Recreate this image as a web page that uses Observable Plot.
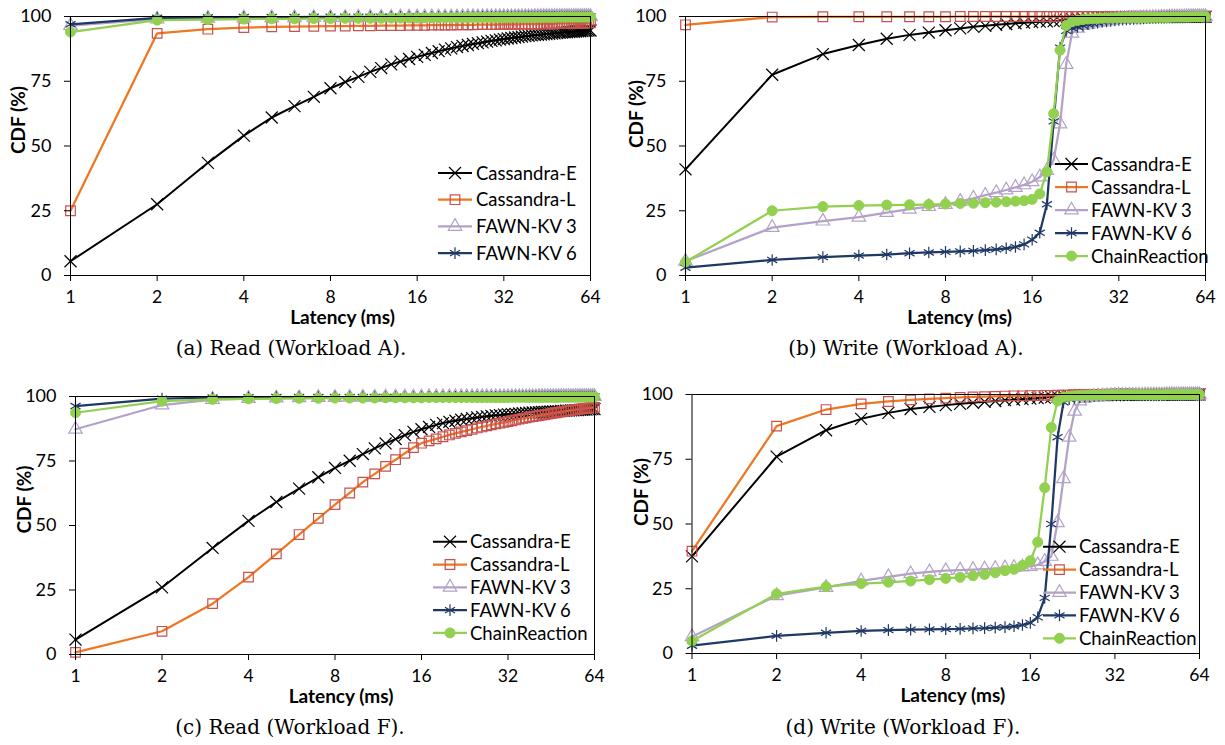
<!DOCTYPE html>
<html><head><meta charset="utf-8">
<script src="https://cdn.jsdelivr.net/npm/d3@7"></script>
<script src="https://cdn.jsdelivr.net/npm/@observablehq/plot@0.6"></script>
<style>
body{margin:0;background:#fff;}
#root{position:relative;width:1225px;height:745px;overflow:hidden;background:#fff;}
.panel{position:absolute;}
.cap{position:absolute;font-family:"DejaVu Serif",serif;font-size:20px;line-height:20px;white-space:nowrap;transform:translateX(-50%);color:#000;}
</style></head><body><div id="root"></div>
<script>
const latency = [1,2,3,4,5,6,7,8,9,10,11,12,13,14,15,16,17,18,19,20,21,22,23,24,25,26,27,28,29,30,31,32,33,34,35,36,37,38,39,40,41,42,43,44,45,46,47,48,49,50,51,52,53,54,55,56,57,58,59,60,61,62,63,64];
const xTicks = [1,2,4,8,16,32,64];
const yTicks = [0,25,50,75,100];
const seriesNames = ["Cassandra-E","Cassandra-L","FAWN-KV 3","FAWN-KV 6","ChainReaction"];

// (a) Read, Workload A
const CE_a = [5.5,27.5,43.5,54,61,65.4,69,72.3,74.7,76.7,78.6,80.1,81.5,82.6,83.6,84.4,
85.2,85.9,86.6,87.2,87.7,88.2,88.6,89,89.4,89.7,90,90.3,90.6,90.8,91.1,91.3,
91.5,91.7,91.9,92,92.2,92.4,92.5,92.7,92.8,92.9,93,93.1,93.2,93.3,93.4,93.5,
93.6,93.7,93.8,93.9,93.9,94,94.1,94.1,94.2,94.3,94.3,94.4,94.5,94.5,94.6,94.6];
const CL_a = [25,93.5,95.1,95.7,96,96.1,96.2,96.3,96.3,96.4,96.4,96.5,96.5,96.5,96.6,96.6,
96.6,96.7,96.7,96.7,96.7,96.8,96.8,96.8,96.8,96.9,96.9,96.9,96.9,96.9,97,97,
97,97,97,97,97.1,97.1,97.1,97.1,97.1,97.1,97.2,97.2,97.2,97.2,97.2,97.2,
97.3,97.3,97.3,97.3,97.3,97.3,97.3,97.4,97.4,97.4,97.4,97.4,97.4,97.5,97.5,97.5];
const F3_a = [96.5,99,99.3,99.4,99.5,99.5,99.6,99.6,99.6,99.7,99.7,99.7,99.7,99.8,99.8,99.8,
99.8,99.8,99.8,99.8,99.8,99.8,99.9,99.9,99.9,99.9,99.9,99.9,99.9,99.9,99.9,99.9,
99.9,99.9,99.9,99.9,99.9,99.9,99.9,99.9,100,100,100,100,100,100,100,100,
100,100,100,100,100,100,100,100,100,100,100,100,100,100,100,100];
const F6_a = [97,99.5,99.7,99.8,99.8,99.8,99.9,99.9,99.9,99.9,99.9,99.9,99.9,99.9,99.9,99.9,
99.9,99.9,99.9,99.9,99.9,99.9,99.9,99.9,100,100,100,100,100,100,100,100,
100,100,100,100,100,100,100,100,100,100,100,100,100,100,100,100,
100,100,100,100,100,100,100,100,100,100,100,100,100,100,100,100];
const CR_a = [94,98.6,98.8,99,99.1,99.1,99.2,99.2,99.3,99.3,99.3,99.3,99.4,99.4,99.4,99.4,
99.5,99.5,99.5,99.5,99.5,99.5,99.5,99.5,99.6,99.6,99.6,99.6,99.6,99.6,99.6,99.6,
99.7,99.7,99.7,99.7,99.7,99.7,99.7,99.7,99.7,99.7,99.7,99.7,99.7,99.7,99.7,99.7,
99.8,99.8,99.8,99.8,99.8,99.8,99.8,99.8,99.8,99.8,99.8,99.8,99.8,99.8,99.8,99.8];

// (b) Write, Workload A
const CE_b = [41,77.5,85.5,89,91.4,92.9,93.8,94.7,95.4,96,96.4,96.8,97.1,97.4,97.6,97.8,
98,98.1,98.2,98.4,98.7,99,99.2,99.3,99.4,99.5,99.5,99.6,99.6,99.7,99.7,99.7,
99.8,99.8,99.8,99.8,99.8,99.8,99.8,99.8,99.8,99.8,99.8,99.8,99.8,99.8,99.8,99.8,
99.8,99.8,99.8,99.8,99.9,99.9,99.9,99.9,99.9,99.9,99.9,99.9,99.9,99.9,99.9,99.9];
const CL_b = [96.8,99.8,99.9,99.9,99.9,99.9,99.9,99.9,100,100,100,100,100,100,100,100,
100,100,100,100,100,100,100,100,100,100,100,100,100,100,100,100,
100,100,100,100,100,100,100,100,100,100,100,100,100,100,100,100,
100,100,100,100,100,100,100,100,100,100,100,100,100,100,100,100];
const F3_b = [5.5,18.5,21,22.5,24.3,25.6,26.6,27.4,28.6,29.8,31,32,33,34,35,36.2,
38,40.5,44.5,58.5,81.5,93.5,95.5,96.5,97,97.5,97.8,98,98.3,98.5,98.7,98.9,
99,99.1,99.2,99.3,99.3,99.4,99.4,99.5,99.5,99.6,99.6,99.6,99.7,99.7,99.7,99.8,
99.8,99.8,99.8,99.8,99.8,99.8,99.9,99.9,99.9,99.9,99.9,99.9,99.9,99.9,99.9,99.9];
const F6_b = [3,6,7.1,7.7,8.1,8.6,8.9,9.1,9.3,9.5,9.8,10.1,10.5,11,12,13.8,
16.5,27.5,59.5,88,94.5,95.5,96,96.5,97,97.3,97.6,97.9,98.1,98.3,98.5,98.7,
98.8,98.9,99,99.1,99.2,99.2,99.3,99.4,99.4,99.5,99.5,99.6,99.6,99.6,99.7,99.7,
99.7,99.8,99.8,99.8,99.8,99.8,99.8,99.8,99.9,99.9,99.9,99.9,99.9,99.9,99.9,99.9];
const CR_b = [5.2,25,26.6,27,27.2,27.3,27.4,27.6,27.8,27.9,28.1,28.3,28.5,28.7,28.9,29.4,
31.5,40,62.5,87,96.5,98,98.5,98.8,99,99.1,99.2,99.3,99.4,99.4,99.5,99.5,
99.6,99.6,99.6,99.6,99.6,99.6,99.6,99.6,99.7,99.7,99.7,99.7,99.7,99.7,99.7,99.7,
99.8,99.8,99.8,99.8,99.8,99.8,99.8,99.8,99.9,99.9,99.9,99.9,99.9,99.9,99.9,99.9];

// (c) Read, Workload F
const CE_c = [5.8,26,41.3,51.8,59.1,64.3,68.7,72.3,75.1,77.7,79.9,81.8,83.5,85,86.3,87.3,
88.2,89,89.7,90.2,90.6,91,91.3,91.6,91.9,92.1,92.3,92.5,92.7,92.8,93,93.1,
93.2,93.3,93.4,93.5,93.6,93.7,93.8,93.8,93.9,94,94,94.1,94.2,94.2,94.3,94.3,
94.4,94.4,94.5,94.5,94.6,94.6,94.7,94.7,94.8,94.8,94.9,94.9,95,95,95.1,95.1];
const CL_c = [0.8,9,19.7,30,39,46.5,52.8,58.1,62.6,66.8,70,72.9,75.5,78,80.2,81.9,
82.8,83.6,84.4,85.1,85.7,86.3,86.8,87.3,87.8,88.2,88.6,89,89.4,89.7,90,90.3,
90.6,90.9,91.2,91.5,91.7,92,92.2,92.4,92.6,92.8,93,93.2,93.4,93.6,93.7,93.9,
94,94.2,94.3,94.5,94.6,94.7,94.9,95,95.1,95.2,95.3,95.4,95.5,95.6,95.7,95.8];
const F3_c = [87.3,96.7,98.8,99.2,99.4,99.5,99.6,99.6,99.7,99.7,99.7,99.8,99.8,99.8,99.8,99.8,
99.9,99.9,99.9,99.9,99.9,99.9,99.9,99.9,99.9,99.9,99.9,99.9,99.9,99.9,99.9,99.9,
99.9,99.9,99.9,99.9,99.9,99.9,99.9,99.9,100,100,100,100,100,100,100,100,
100,100,100,100,100,100,100,100,100,100,100,100,100,100,100,100];
const F6_c = [96.3,99.2,99.6,99.7,99.8,99.8,99.8,99.8,99.8,99.8,99.8,99.8,99.8,99.8,99.8,99.8,
99.9,99.9,99.9,99.9,99.9,99.9,99.9,99.9,99.9,99.9,99.9,99.9,99.9,99.9,99.9,99.9,
100,100,100,100,100,100,100,100,100,100,100,100,100,100,100,100,
100,100,100,100,100,100,100,100,100,100,100,100,100,100,100,100];
const CR_c = [93.7,98.2,98.9,99.1,99.2,99.3,99.3,99.4,99.4,99.4,99.4,99.5,99.5,99.5,99.5,99.5,
99.6,99.6,99.6,99.6,99.6,99.6,99.6,99.6,99.6,99.6,99.6,99.6,99.6,99.6,99.6,99.6,
99.7,99.7,99.7,99.7,99.7,99.7,99.7,99.7,99.7,99.7,99.7,99.7,99.7,99.7,99.7,99.7,
99.8,99.8,99.8,99.8,99.8,99.8,99.8,99.8,99.8,99.8,99.8,99.8,99.8,99.8,99.8,99.8];

// (d) Write, Workload F
const CE_d = [37.5,76,86.2,90.6,92.9,94.4,95.2,95.9,96.4,96.8,97.2,97.5,97.8,98,98.2,98.4,
98.6,98.8,99,99.2,99.4,99.5,99.6,99.6,99.7,99.7,99.7,99.8,99.8,99.8,99.8,99.8,
99.9,99.9,99.9,99.9,99.9,99.9,99.9,99.9,99.9,99.9,99.9,99.9,99.9,99.9,99.9,99.9,
100,100,100,100,100,100,100,100,100,100,100,100,100,100,100,100];
const CL_d = [39.5,87.8,94.2,96.4,97.3,97.9,98.3,98.6,98.9,99.1,99.2,99.3,99.4,99.5,99.5,99.6,
99.6,99.7,99.7,99.8,99.8,99.8,99.9,99.9,99.9,99.9,99.9,99.9,99.9,99.9,100,100,
100,100,100,100,100,100,100,100,100,100,100,100,100,100,100,100,
100,100,100,100,100,100,100,100,100,100,100,100,100,100,100,100];
const F3_d = [6.5,22.3,25.5,28,29.6,30.8,31.5,32,32.2,32.4,32.6,32.8,33,33.2,33.4,33.6,
34.2,35.5,37.5,50.5,67.5,83.5,93.5,97.5,98.5,98.9,99.1,99.3,99.4,99.5,99.6,99.6,
99.7,99.7,99.7,99.7,99.7,99.7,99.7,99.7,99.8,99.8,99.8,99.8,99.8,99.8,99.8,99.8,
99.9,99.9,99.9,99.9,99.9,99.9,99.9,99.9,99.9,99.9,99.9,99.9,99.9,99.9,99.9,99.9];
const F6_d = [3,6.8,8,8.7,9,9.2,9.3,9.4,9.5,9.7,9.8,10,10.2,10.5,11,11.8,
14,21.5,50,83.5,97,98.2,98.7,99,99.2,99.3,99.4,99.5,99.5,99.6,99.6,99.7,
99.7,99.7,99.7,99.7,99.7,99.7,99.7,99.7,99.8,99.8,99.8,99.8,99.8,99.8,99.8,99.8,
99.9,99.9,99.9,99.9,99.9,99.9,99.9,99.9,99.9,99.9,99.9,99.9,99.9,99.9,99.9,99.9];
const CR_d = [4.8,23,25.8,27,27.5,28,28.5,29,29.4,30,30.5,31.2,32,32.5,34,35.8,
43,64,87.3,97.5,99,99.3,99.5,99.6,99.7,99.7,99.8,99.8,99.8,99.9,99.9,99.9,
99.9,99.9,99.9,99.9,99.9,99.9,99.9,99.9,99.9,99.9,99.9,99.9,99.9,99.9,99.9,99.9,
100,100,100,100,100,100,100,100,100,100,100,100,100,100,100,100];

const FONT = "Lato, 'Open Sans', sans-serif";
const styles = [
  {line:"#000000", lw:2, symbol:"times", d3sym:d3.symbolTimes, r:5.5, ms:"#000000", mf:"none", msw:1.2},
  {line:"#EE7722", lw:2.25, symbol:"square", d3sym:d3.symbolSquare, r:5.4, ms:"#C8504D", mf:"none", msw:1.2},
  {line:"#B3A2C7", lw:2.25, symbol:"triangle", d3sym:d3.symbolTriangle, r:5, ms:"#B3A2C7", mf:"none", msw:1.2},
  {line:"#1F3864", lw:2.25, symbol:"asterisk", d3sym:d3.symbolAsterisk, r:5.5, ms:"#1F3864", mf:"none", msw:1.2},
  {line:"#92D050", lw:2.25, symbol:"circle", d3sym:d3.symbolCircle, r:5, ms:"#92D050", mf:"#92D050", msw:1}
];

const panels = [
  {caption:"(a) Read (Workload A).", series:[CE_a,CL_a,F3_a,F6_a,CR_a], nLegend:4,
   left:0, top:0, width:612, height:330, ml:70, mr:22, mt:16, mb:55,
   capX:291, capY:348, xlabDx:12, ylabDx:-51.5, ylabDy:8,
   leg:{x1:438, x2:472, tx:476, y0:173, dy:26.7}},
  {caption:"(b) Write (Workload A).", series:[CE_b,CL_b,F3_b,F6_b,CR_b], nLegend:5,
   left:612, top:0, width:613, height:330, ml:73, mr:20, mt:16, mb:55,
   capX:906, capY:348, xlabDx:14, ylabDx:-48.5, ylabDy:2,
   leg:{x1:1055, x2:1088, tx:1091, y0:164, dy:23}},
  {caption:"(c) Read (Workload F).", series:[CE_c,CL_c,F3_c,F6_c,CR_c], nLegend:5,
   left:0, top:380, width:612, height:330, ml:75, mr:18, mt:16, mb:56,
   capX:290, capY:727, xlabDx:6, ylabDx:-50.5, ylabDy:8,
   leg:{x1:433, x2:467, tx:470, y0:541.7, dy:22.8}},
  {caption:"(d) Write (Workload F).", series:[CE_d,CL_d,F3_d,F6_d,CR_d], nLegend:5,
   left:612, top:380, width:613, height:330, ml:79.5, mr:26, mt:14, mb:57,
   capX:903, capY:727, xlabDx:7, ylabDx:-50, ylabDy:2,
   leg:{x1:1043, x2:1076, tx:1079, y0:546.7, dy:22.9}}
];

const root = document.getElementById("root");

for (const p of panels) {
  const marks = [];
  p.series.forEach((vals, k) => {
    const st = styles[k];
    const data = latency.map((x, i) => ({x, y: vals[i]}));
    marks.push(Plot.line(data, {x:"x", y:"y", stroke:st.line, strokeWidth:st.lw, strokeLinejoin:"round"}));
    marks.push(Plot.dot(data, {x:"x", y:"y", symbol:st.symbol, r:st.r, stroke:st.ms, fill:st.mf, strokeWidth:st.msw}));
  });
  marks.push(Plot.frame({stroke:"#000", strokeWidth:1}));
  marks.push(Plot.axisX({ticks:xTicks, tickFormat:d=>String(d), tickSize:6, tickPadding:9, label:null, fontSize:17.5}));
  marks.push(Plot.axisY({ticks:yTicks, tickSize:6, tickPadding:13, label:null, fontSize:18}));
  marks.push(Plot.text(["Latency (ms)"], {text:d=>d, frameAnchor:"bottom", dy:48, dx:p.xlabDx, fontWeight:"bold", fontSize:19}));
  marks.push(Plot.text(["CDF (%)"], {text:d=>d, frameAnchor:"left", rotate:-90, dx:p.ylabDx, dy:p.ylabDy, fontWeight:"bold", fontSize:19}));

  const svg = Plot.plot({
    width:p.width, height:p.height,
    marginLeft:p.ml, marginRight:p.mr, marginTop:p.mt, marginBottom:p.mb,
    x:{type:"log", base:2, domain:[1,64]},
    y:{domain:[0,100]},
    style:{fontFamily:FONT, color:"#000", background:"transparent", overflow:"visible"},
    marks
  });

  // legend inside the plot area
  const g = d3.select(svg).append("g")
    .attr("font-family", FONT).attr("font-size", 18.5).attr("text-anchor", "start");
  for (let k = 0; k < p.nLegend; k++) {
    const st = styles[k];
    const y = p.leg.y0 + k * p.leg.dy - p.top;
    const x1 = p.leg.x1 - p.left, x2 = p.leg.x2 - p.left, tx = p.leg.tx - p.left;
    g.append("line").attr("x1",x1).attr("x2",x2).attr("y1",y).attr("y2",y)
      .attr("stroke",st.line).attr("stroke-width",st.lw);
    g.append("path").attr("d", d3.symbol(st.d3sym, Math.PI*st.r*st.r)())
      .attr("transform",`translate(${(x1+x2)/2},${y})`)
      .attr("fill",st.mf).attr("stroke",st.ms).attr("stroke-width",st.msw);
    g.append("text").attr("x",tx).attr("y",y).attr("dy","0.36em")
      .attr("text-anchor","start").attr("fill","#000").text(seriesNames[k]);
  }

  const div = document.createElement("div");
  div.className = "panel";
  div.style.left = p.left + "px";
  div.style.top = p.top + "px";
  div.appendChild(svg);
  root.appendChild(div);

  const cap = document.createElement("div");
  cap.className = "cap";
  cap.style.left = p.capX + "px";
  cap.style.top = (p.capY - 10) + "px";
  cap.textContent = p.caption;
  root.appendChild(cap);
}
</script>
</body></html>
